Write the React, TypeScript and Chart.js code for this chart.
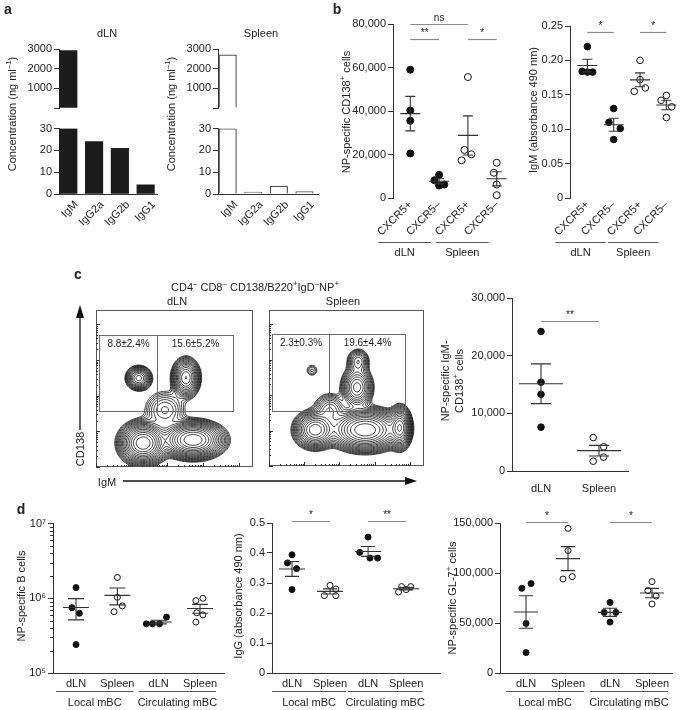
import React, { useEffect, useRef } from 'react';
import { Chart, registerables } from 'chart.js';

Chart.register(...registerables);

const FONT = '"Liberation Sans", Arial, Helvetica, sans-serif';
Chart.defaults.font.family = FONT;
Chart.defaults.font.size = 11;
Chart.defaults.color = '#222';

/* ================= DATA ================= */
// panel a
const igClasses = ['IgM', 'IgG2a', 'IgG2b', 'IgG1'];
const dlnConcentration = [2920, 24.0, 21.0, 4.2];
const spleenConcentration = [2700, 0.9, 3.6, 1.1];
const concUpperTicks = [0, 1000, 2000, 3000];
const concLowerTicks = [0, 10, 20, 30];
const concBreak = 30;

// panel b
const cxcrLabels = ['CXCR5+', 'CXCR5–', 'CXCR5+', 'CXCR5–'];
const cxcrBrackets = [
  { a: 0, b: 1, label: 'dLN' },
  { a: 2, b: 3, label: 'Spleen' },
];
const cd138DlnPos = [59000, 40200, 35500, 20500];
const cd138DlnNeg = [10700, 8200, 5700, 6200];
const cd138SplPos = [55600, 22100, 20100, 17300];
const cd138SplNeg = [16200, 11600, 6200, 1300];
const cd138Jitter = [
  [0, 0, 0, 0],
  [0, -0.16, 0, 0.18],
  [0, -0.12, 0.12, -0.22],
  [0, -0.1, 0, 0],
];
const cd138Ticks = [0, 20000, 40000, 60000, 80000];
const cd138Sig = [
  { a: 0, b: 1, y: 73100, t: '**' },
  { a: 0, b: 2, y: 80000, t: 'ns' },
  { a: 2, b: 3, y: 73100, t: '*' },
];
const igmAbsDlnPos = [0.22, 0.184, 0.183, 0.183];
const igmAbsDlnNeg = [0.13, 0.11, 0.101, 0.085];
const igmAbsSplPos = [0.2, 0.172, 0.155, 0.16];
const igmAbsSplNeg = [0.149, 0.142, 0.1325, 0.117];
const igmAbsJitter = [
  [0, -0.2, 0, 0.2],
  [0, -0.18, 0.25, 0],
  [0, 0, -0.22, 0.2],
  [0, -0.2, 0.2, 0],
];
const igmAbsTicks = [0, 0.05, 0.1, 0.15, 0.2, 0.25];
const igmAbsSig = [
  { a: 0, b: 1, y: 0.241, t: '*' },
  { a: 2, b: 3, y: 0.241, t: '*' },
];

// panel c (flow): populations [IgM centre, CD138 centre, IgM spread, CD138 spread, weight] in decades
const dlnPopulations = [
  [1.2, 2.49, 0.16, 0.15, 0.35],
  [2.52, 2.5, 0.17, 0.24, 0.5],
  [1.32, 0.67, 0.28, 0.25, 1.0],
  [2.72, 0.76, 0.37, 0.22, 1.0],
  [1.93, 1.6, 0.3, 0.28, 0.1],
];
const spleenPopulations = [
  [1.22, 2.7, 0.11, 0.11, 0.04],
  [2.5, 2.22, 0.2, 0.26, 0.35],
  [2.53, 2.95, 0.15, 0.17, 0.15],
  [1.31, 1.02, 0.26, 0.23, 0.6],
  [2.73, 1.02, 0.43, 0.25, 1.0],
  [3.72, 1.08, 0.14, 0.26, 0.6],
  [1.73, 1.59, 0.22, 0.22, 0.15],
];
const dlnGates = [
  [0.08, 1.57, 1.71, 3.7],
  [1.71, 1.57, 3.84, 3.7],
];
const dlnGateLabels = ['8.8±2.4%', '15.6±5.2%'];
const spleenGates = [
  [0.085, 1.56, 1.7, 3.72],
  [1.7, 1.56, 3.86, 3.72],
];
const spleenGateLabels = ['2.3±0.3%', '19.6±4.4%'];
const flowDecades = 4.4;

const tissueLabels = ['dLN', 'Spleen'];
const igmNegDln = [24200, 15400, 13300, 7600];
const igmNegSpleen = [5800, 4200, 2400, 1700];
const igmNegJitter = [
  [0, 0, 0, 0],
  [-0.1, 0.08, 0.08, -0.1],
];
const igmNegTicks = [0, 10000, 20000, 30000];
const igmNegSig = [{ a: 0, b: 1, y: 26000, t: '**' }];

// panel d
const mbcLabels = ['dLN', 'Spleen', 'dLN', 'Spleen'];
const mbcBrackets = [
  { a: 0, b: 1, label: 'Local mBC' },
  { a: 2, b: 3, label: 'Circulating mBC' },
];
const bCellLocalDln = [1.39e6, 7.5e5, 6.3e5, 2.4e5];
const bCellLocalSpleen = [1.9e6, 1.03e6, 7.9e5, 6.6e5];
const bCellCircDln = [4.55e5, 4.55e5, 4.55e5, 5.6e5];
const bCellCircSpleen = [9.3e5, 1.0e6, 6.4e5, 6.0e5, 4.8e5];
const bCellJitter = [
  [0, -0.1, 0.08, 0],
  [0, 0, 0.12, -0.08],
  [-0.3, -0.15, 0.02, 0.19],
  [-0.1, 0.07, -0.08, 0.07, -0.1],
];
const bCellTicks = [1e5, 1e6, 1e7];

const iggLocalDln = [0.394, 0.367, 0.348, 0.278];
const iggLocalSpleen = [0.292, 0.28, 0.258, 0.258];
const iggCircDln = [0.453, 0.402, 0.383, 0.383];
const iggCircSpleen = [0.288, 0.288, 0.278, 0.27];
const iggJitter = [
  [0, -0.12, 0.12, 0],
  [0, 0.15, -0.15, 0.15],
  [0, -0.22, 0.05, 0.25],
  [-0.12, 0.12, 0, -0.2],
];
const iggTicks = [0, 0.1, 0.2, 0.3, 0.4, 0.5];
const iggSig = [
  { a: 0, b: 1, y: 0.505, t: '*' },
  { a: 2, b: 3, y: 0.505, t: '**' },
];

const gl7LocalDln = [84700, 89400, 49500, 20400];
const gl7LocalSpleen = [144600, 122500, 94000, 96400];
const gl7CircDln = [70600, 60600, 60600, 50900];
const gl7CircSpleen = [91400, 82400, 77000, 69000];
const gl7Jitter = [
  [-0.1, 0.12, 0, 0],
  [0, 0, -0.12, 0.1],
  [0, -0.14, 0.14, 0],
  [0, -0.1, 0.1, 0],
];
const gl7Ticks = [0, 50000, 100000, 150000];
const gl7Sig = [
  { a: 0, b: 1, y: 151000, t: '*' },
  { a: 2, b: 3, y: 151000, t: '*' },
];

/* ================= HELPERS ================= */
type Area = { l: number; t: number; r: number; b: number };
type Pad = { l: number; t: number; r: number; b: number };

const SUP: Record<number, string> = { 5: '⁵', 6: '⁶', 7: '⁷' };
const fmtThousands = (v: number) => v.toLocaleString('en-US');

function boxOf(area: Area, pad: Pad) {
  return {
    x: area.l - pad.l,
    y: area.t - pad.t,
    w: area.r - area.l + pad.l + pad.r,
    h: area.b - area.t + pad.t + pad.b,
  };
}

function yAxis(pad: Pad, min: number, max: number, ticks: number[], fmt: (v: number) => string, type = 'linear') {
  return {
    type,
    min,
    max,
    afterFit: (s: any) => {
      s.width = pad.l;
    },
    afterBuildTicks: (s: any) => {
      s.ticks = ticks.map((v) => ({ value: v }));
    },
    grid: { display: true, drawOnChartArea: false, drawTicks: true, tickLength: 5, color: '#333', lineWidth: 1 },
    border: { display: true, color: '#333', width: 1 },
    ticks: { padding: 2, color: '#222', font: { size: 11, family: FONT }, callback: (v: any) => fmt(Number(v)) },
  };
}

function xAxis(pad: Pad, min: number, max: number, labels: string[], o: any) {
  return {
    type: 'linear',
    min,
    max,
    offset: false,
    display: o.display !== false,
    afterFit: (s: any) => {
      s.height = pad.b;
    },
    afterBuildTicks: (s: any) => {
      s.ticks = labels.map((_, i) => ({ value: i }));
    },
    grid: { display: false, drawTicks: false, tickLength: 0 },
    border: { display: o.border, color: '#333', width: 1 },
    ticks: {
      display: !o.rotate,
      autoSkip: false,
      maxRotation: 0,
      minRotation: 0,
      padding: o.padding,
      color: '#222',
      font: { size: 11, family: FONT },
      callback: (_v: any, i: number) => labels[i],
    },
  };
}

// rotated (45°) category labels, anchored at their right end below each tick
function makeRotLabels(labels: string[], dx: number, dy: number) {
  return {
    id: 'rotLabels',
    afterDraw(chart: any) {
      const { ctx, chartArea: a } = chart;
      const x = chart.scales.x;
      ctx.save();
      ctx.font = `11px ${FONT}`;
      ctx.fillStyle = '#222';
      ctx.textAlign = 'right';
      ctx.textBaseline = 'middle';
      labels.forEach((l, i) => {
        ctx.save();
        ctx.translate(x.getPixelForValue(i) + dx, a.bottom + dy);
        ctx.rotate(-Math.PI / 4);
        ctx.fillText(l, 0, 0);
        ctx.restore();
      });
      ctx.restore();
    },
  };
}

function makeDotAnnot(o: any) {
  return {
    id: 'dotAnnot',
    afterDatasetsDraw(chart: any) {
      const { ctx, chartArea: a } = chart;
      const x = chart.scales.x;
      const y = chart.scales.y;
      ctx.save();
      // mean ± SEM
      ctx.strokeStyle = '#333';
      ctx.lineWidth = 1.1;
      o.groups.forEach((vals: number[], gi: number) => {
        const n = vals.length;
        const mean = vals.reduce((s, v) => s + v, 0) / n;
        const sd = Math.sqrt(vals.reduce((s, v) => s + (v - mean) * (v - mean), 0) / (n - 1));
        const sem = sd / Math.sqrt(n);
        const cx = x.getPixelForValue(gi);
        const ym = y.getPixelForValue(mean);
        const yt = y.getPixelForValue(mean + sem);
        const yb = y.getPixelForValue(mean - sem);
        ctx.beginPath();
        ctx.moveTo(cx - o.meanHalf, ym);
        ctx.lineTo(cx + o.meanHalf, ym);
        ctx.moveTo(cx, yt);
        ctx.lineTo(cx, yb);
        ctx.moveTo(cx - o.capHalf, yt);
        ctx.lineTo(cx + o.capHalf, yt);
        ctx.moveTo(cx - o.capHalf, yb);
        ctx.lineTo(cx + o.capHalf, yb);
        ctx.stroke();
      });
      // significance bars
      ctx.font = `10px ${FONT}`;
      ctx.textAlign = 'center';
      ctx.textBaseline = 'bottom';
      ctx.fillStyle = '#222';
      (o.sig || []).forEach((s: any) => {
        const x0 = x.getPixelForValue(s.a);
        const x1 = x.getPixelForValue(s.b);
        const yy = Math.round(y.getPixelForValue(s.y)) + 0.5;
        ctx.strokeStyle = '#8a8a8a';
        ctx.lineWidth = 1.2;
        ctx.beginPath();
        ctx.moveTo(x0, yy);
        ctx.lineTo(x1, yy);
        ctx.stroke();
        ctx.fillText(s.t, (x0 + x1) / 2, yy - 1);
      });
      // group brackets
      ctx.font = `11px ${FONT}`;
      ctx.textBaseline = 'middle';
      (o.brackets || []).forEach((br: any) => {
        const x0 = x.getPixelForValue(br.a) + o.bOff.s;
        const x1 = x.getPixelForValue(br.b) + o.bOff.e;
        const ly = Math.round(a.bottom + o.bOff.line) + 0.5;
        ctx.strokeStyle = '#555';
        ctx.lineWidth = 1;
        ctx.beginPath();
        ctx.moveTo(x0, ly);
        ctx.lineTo(x1, ly);
        ctx.stroke();
        ctx.fillText(br.label, (x0 + x1) / 2, a.bottom + o.bOff.text);
      });
      // minor log ticks
      if (o.minor && o.minor.length) {
        ctx.strokeStyle = '#333';
        ctx.lineWidth = 1;
        ctx.beginPath();
        o.minor.forEach((v: number) => {
          const py = Math.round(y.getPixelForValue(v)) + 0.5;
          ctx.moveTo(a.left, py);
          ctx.lineTo(a.left - 3, py);
        });
        ctx.stroke();
      }
      ctx.restore();
    },
  };
}

function dotChart(o: any) {
  const { pad } = o;
  const plugins: any[] = [
    makeDotAnnot({
      groups: o.groups.map((g: any) => g.values),
      sig: o.sig,
      brackets: o.brackets,
      bOff: o.bOff,
      meanHalf: o.meanHalf,
      capHalf: o.capHalf,
      minor: o.minor,
    }),
  ];
  if (o.xOpts.rotate) plugins.push(makeRotLabels(o.xLabels, o.xOpts.dx, o.xOpts.dy));
  return {
    type: 'scatter',
    data: {
      datasets: o.groups.map((g: any, gi: number) => ({
        data: g.values.map((v: number, k: number) => ({ x: gi + g.jitter[k], y: v })),
        pointRadius: o.radius,
        pointBackgroundColor: g.filled ? '#111' : '#fff',
        pointBorderColor: '#111',
        pointBorderWidth: 1,
        showLine: false,
        clip: false,
      })),
    },
    options: {
      responsive: false,
      animation: false,
      events: [],
      layout: { padding: { left: 0, top: pad.t, right: pad.r, bottom: 0 } },
      plugins: { legend: { display: false }, tooltip: { enabled: false } },
      scales: {
        x: xAxis(pad, o.xMin, o.xMax, o.xLabels, o.xOpts),
        y: yAxis(pad, o.yMin, o.yMax, o.yTicks, o.yFmt, o.yType || 'linear'),
      },
    },
    plugins,
  };
}

function barChart(values: number[], part: 'upper' | 'lower', filled: boolean, xMin: number, xMax: number, pad: Pad) {
  const ticks = part === 'upper' ? concUpperTicks : concLowerTicks;
  return {
    type: 'bar',
    data: {
      datasets: [
        {
          data: values.map((v, i) => ({
            x: i,
            y: part === 'upper' ? (v > concBreak ? v : null) : Math.min(v, concBreak),
          })),
          backgroundColor: filled ? '#1c1c1c' : '#ffffff',
          borderColor: filled ? '#1c1c1c' : '#555',
          borderWidth: filled ? 0 : 1.2,
          barThickness: 17.5,
          borderSkipped: 'start',
        },
      ],
    },
    options: {
      responsive: false,
      animation: false,
      events: [],
      layout: { padding: { left: 0, top: pad.t, right: pad.r, bottom: part === 'upper' ? pad.b : 0 } },
      plugins: { legend: { display: false }, tooltip: { enabled: false } },
      scales: {
        x: xAxis(pad, xMin, xMax, igClasses, { rotate: true, border: true, padding: 0, display: part === 'lower' }),
        y: yAxis(pad, 0, ticks[ticks.length - 1], ticks, (v) => (part === 'upper' && v === 0 ? '' : String(v))),
      },
    },
    plugins: part === 'lower' ? [makeRotLabels(igClasses, 8, 9)] : [],
  };
}

function drawContours(chart: any, pops: number[][]) {
  const { ctx, chartArea: a } = chart;
  const x = chart.scales.x;
  const y = chart.scales.y;
  const step = 1.5;
  const nx = Math.ceil((a.right - a.left) / step);
  const ny = Math.ceil((a.bottom - a.top) / step);
  const W = nx + 1;
  const f = new Float64Array((nx + 1) * (ny + 1));
  let max = 0;
  for (let j = 0; j <= ny; j++) {
    const yv = y.getValueForPixel(a.top + j * step);
    for (let i = 0; i <= nx; i++) {
      const xv = x.getValueForPixel(a.left + i * step);
      let s = 0;
      for (const p of pops) {
        const dx = (xv - p[0]) / p[2];
        const dy = (yv - p[1]) / p[3];
        s += p[4] * Math.exp(-0.5 * (dx * dx + dy * dy));
      }
      f[j * W + i] = s;
      if (s > max) max = s;
    }
  }
  ctx.save();
  ctx.beginPath();
  ctx.rect(a.left, a.top, a.right - a.left, a.bottom - a.top);
  ctx.clip();
  ctx.strokeStyle = '#000';
  ctx.lineWidth = 0.75;
  ctx.beginPath();
  const levels = 17;
  for (let k = 1; k <= levels; k++) {
    const L = max * Math.pow(0.79, k);
    for (let j = 0; j < ny; j++) {
      for (let i = 0; i < nx; i++) {
        const v0 = f[j * W + i];
        const v1 = f[j * W + i + 1];
        const v2 = f[(j + 1) * W + i + 1];
        const v3 = f[(j + 1) * W + i];
        const pts: number[][] = [];
        if (v0 >= L !== v1 >= L) pts.push([i + (L - v0) / (v1 - v0), j]);
        if (v1 >= L !== v2 >= L) pts.push([i + 1, j + (L - v1) / (v2 - v1)]);
        if (v2 >= L !== v3 >= L) pts.push([i + 1 - (L - v2) / (v3 - v2), j + 1]);
        if (v3 >= L !== v0 >= L) pts.push([i, j + 1 - (L - v3) / (v0 - v3)]);
        for (let q = 0; q + 1 < pts.length; q += 2) {
          ctx.moveTo(a.left + pts[q][0] * step, a.top + pts[q][1] * step);
          ctx.lineTo(a.left + pts[q + 1][0] * step, a.top + pts[q + 1][1] * step);
        }
      }
    }
  }
  ctx.stroke();
  ctx.restore();
}

function flowChart(pops: number[][], gates: number[][], gateLabels: string[]) {
  return {
    type: 'scatter',
    data: { datasets: [] },
    options: {
      responsive: false,
      animation: false,
      events: [],
      layout: { padding: { left: 2, top: 2, right: 2, bottom: 2 } },
      plugins: { legend: { display: false }, tooltip: { enabled: false } },
      scales: {
        x: { type: 'linear', min: 0, max: flowDecades, display: false },
        y: { type: 'linear', min: 0, max: flowDecades, display: false },
      },
    },
    plugins: [
      {
        id: 'flow',
        afterDraw(chart: any) {
          const { ctx, chartArea: a } = chart;
          const x = chart.scales.x;
          const y = chart.scales.y;
          drawContours(chart, pops);
          ctx.save();
          ctx.strokeStyle = '#555';
          ctx.lineWidth = 1;
          ctx.strokeRect(a.left + 0.5, a.top + 0.5, a.right - a.left - 1, a.bottom - a.top - 1);
          ctx.strokeStyle = '#333';
          ctx.beginPath();
          for (let d = 0; d < flowDecades; d++) {
            for (let k = 1; k <= 9; k++) {
              const v = d + Math.log10(k);
              if (v > flowDecades - 0.1) break;
              const len = k === 1 ? 4 : 2;
              const px = Math.round(x.getPixelForValue(v)) + 0.5;
              ctx.moveTo(px, a.bottom);
              ctx.lineTo(px, a.bottom - len);
              const py = Math.round(y.getPixelForValue(v)) + 0.5;
              ctx.moveTo(a.left, py);
              ctx.lineTo(a.left + len, py);
            }
          }
          ctx.stroke();
          ctx.strokeStyle = '#6a6a6a';
          ctx.lineWidth = 1;
          ctx.font = `10px ${FONT}`;
          ctx.fillStyle = '#222';
          ctx.textAlign = 'center';
          ctx.textBaseline = 'middle';
          gates.forEach((g, i) => {
            const x0 = Math.round(x.getPixelForValue(g[0])) + 0.5;
            const x1 = Math.round(x.getPixelForValue(g[2])) + 0.5;
            const y0 = Math.round(y.getPixelForValue(g[3])) + 0.5;
            const y1 = Math.round(y.getPixelForValue(g[1])) + 0.5;
            ctx.strokeRect(x0, y0, x1 - x0, y1 - y0);
            ctx.fillText(gateLabels[i], (x0 + x1) / 2, y0 + 9);
          });
          ctx.restore();
        },
      },
    ],
  };
}

/* ================= COMPONENTS ================= */
function ChartCanvas({ area, pad, build }: { area: Area; pad: Pad; build: () => any }) {
  const ref = useRef<HTMLCanvasElement | null>(null);
  const box = boxOf(area, pad);
  useEffect(() => {
    const c = new Chart(ref.current as HTMLCanvasElement, build());
    return () => c.destroy();
  }, []);
  return (
    <canvas
      ref={ref}
      width={box.w}
      height={box.h}
      style={{ position: 'absolute', left: box.x, top: box.y, width: box.w, height: box.h }}
    />
  );
}

function T({ x, y, children, size = 11, bold = false, rot = false }: any) {
  return (
    <div
      style={{
        position: 'absolute',
        left: x,
        top: y,
        transform: rot ? 'translate(-50%, -50%) rotate(-90deg)' : 'translate(-50%, -50%)',
        whiteSpace: 'nowrap',
        textAlign: 'center',
        fontSize: size,
        fontWeight: bold ? 'bold' : 'normal',
        lineHeight: '14px',
        color: '#222',
      }}
    >
      {children}
    </div>
  );
}

const supStyle: any = { fontSize: '0.72em', verticalAlign: 'super', lineHeight: 0 };
const Sup = ({ children }: any) => <sup style={supStyle}>{children}</sup>;

export default function App() {
  // panel a
  const aPadUp: Pad = { l: 45, t: 10, r: 6, b: 8 };
  const aPadLo: Pad = { l: 45, t: 8, r: 6, b: 36 };
  const aDlnUp: Area = { l: 59, t: 49, r: 157, b: 116 };
  const aDlnLo: Area = { l: 59, t: 128, r: 157, b: 194 };
  const aSplUp: Area = { l: 218, t: 49, r: 318, b: 116 };
  const aSplLo: Area = { l: 218, t: 128, r: 318, b: 194 };

  // panel b
  const b1Area: Area = { l: 393, t: 24, r: 515, b: 198 };
  const b1Pad: Pad = { l: 50, t: 18, r: 4, b: 65 };
  const b2Area: Area = { l: 570, t: 26, r: 683, b: 198 };
  const b2Pad: Pad = { l: 42, t: 14, r: 1, b: 65 };
  const bXOpts = { rotate: true, border: false, padding: 0, dx: 0, dy: 5 };
  const bBrOff = { s: -32, e: -8, line: 44, text: 55 };

  // panel c
  const cDln: Area = { l: 96, t: 310, r: 253, b: 467 };
  const cSpl: Area = { l: 269, t: 310, r: 424, b: 466 };
  const flowPad: Pad = { l: 2, t: 2, r: 2, b: 2 };
  const cRArea: Area = { l: 512, t: 298, r: 628, b: 471 };
  const cRPad: Pad = { l: 52, t: 10, r: 6, b: 30 };

  // panel d
  const d1Area: Area = { l: 53, t: 523, r: 224, b: 673 };
  const d1Pad: Pad = { l: 36, t: 8, r: 6, b: 40 };
  const d2Area: Area = { l: 272, t: 523, r: 440, b: 673 };
  const d2Pad: Pad = { l: 34, t: 14, r: 8, b: 40 };
  const d3Area: Area = { l: 500, t: 523, r: 672, b: 673 };
  const d3Pad: Pad = { l: 46, t: 14, r: 10, b: 40 };
  const dXOpts = { rotate: false, border: true, padding: 4 };
  const dBrOff = { s: -20, e: 16, line: 18, text: 30 };

  const bCellMinor: number[] = [];
  for (let d = 5; d < 7; d++) for (let k = 2; k <= 9; k++) bCellMinor.push(k * Math.pow(10, d));

  return (
    <div
      style={{
        position: 'absolute',
        left: 0,
        top: 0,
        width: 685,
        height: 710,
        background: '#fff',
        fontFamily: FONT,
        fontSize: 11,
        color: '#222',
        overflow: 'hidden',
      }}
    >
      {/* panel a */}
      <ChartCanvas area={aDlnUp} pad={aPadUp} build={() => barChart(dlnConcentration, 'upper', true, -0.36, 3.44, aPadUp)} />
      <ChartCanvas area={aDlnLo} pad={aPadLo} build={() => barChart(dlnConcentration, 'lower', true, -0.36, 3.44, aPadLo)} />
      <ChartCanvas area={aSplUp} pad={aPadUp} build={() => barChart(spleenConcentration, 'upper', false, -0.38, 3.53, aPadUp)} />
      <ChartCanvas area={aSplLo} pad={aPadLo} build={() => barChart(spleenConcentration, 'lower', false, -0.38, 3.53, aPadLo)} />

      {/* panel b */}
      <ChartCanvas
        area={b1Area}
        pad={b1Pad}
        build={() =>
          dotChart({
            pad: b1Pad,
            xMin: -0.6,
            xMax: 3.6,
            xLabels: cxcrLabels,
            xOpts: bXOpts,
            yMin: 0,
            yMax: 80000,
            yTicks: cd138Ticks,
            yFmt: fmtThousands,
            groups: [
              { values: cd138DlnPos, filled: true, jitter: cd138Jitter[0] },
              { values: cd138DlnNeg, filled: true, jitter: cd138Jitter[1] },
              { values: cd138SplPos, filled: false, jitter: cd138Jitter[2] },
              { values: cd138SplNeg, filled: false, jitter: cd138Jitter[3] },
            ],
            sig: cd138Sig,
            brackets: cxcrBrackets,
            bOff: bBrOff,
            meanHalf: 10,
            capHalf: 5,
            radius: 3.5,
          })
        }
      />
      <ChartCanvas
        area={b2Area}
        pad={b2Pad}
        build={() =>
          dotChart({
            pad: b2Pad,
            xMin: -0.66,
            xMax: 3.48,
            xLabels: cxcrLabels,
            xOpts: bXOpts,
            yMin: 0,
            yMax: 0.25,
            yTicks: igmAbsTicks,
            yFmt: (v: number) => (v === 0 ? '0' : v.toFixed(2)),
            groups: [
              { values: igmAbsDlnPos, filled: true, jitter: igmAbsJitter[0] },
              { values: igmAbsDlnNeg, filled: true, jitter: igmAbsJitter[1] },
              { values: igmAbsSplPos, filled: false, jitter: igmAbsJitter[2] },
              { values: igmAbsSplNeg, filled: false, jitter: igmAbsJitter[3] },
            ],
            sig: igmAbsSig,
            brackets: cxcrBrackets,
            bOff: bBrOff,
            meanHalf: 10,
            capHalf: 5,
            radius: 3.3,
          })
        }
      />

      {/* panel c */}
      <ChartCanvas area={cDln} pad={flowPad} build={() => flowChart(dlnPopulations, dlnGates, dlnGateLabels)} />
      <ChartCanvas area={cSpl} pad={flowPad} build={() => flowChart(spleenPopulations, spleenGates, spleenGateLabels)} />
      <ChartCanvas
        area={cRArea}
        pad={cRPad}
        build={() =>
          dotChart({
            pad: cRPad,
            xMin: -0.5,
            xMax: 1.5,
            xLabels: tissueLabels,
            xOpts: { rotate: false, border: true, padding: 11 },
            yMin: 0,
            yMax: 30000,
            yTicks: igmNegTicks,
            yFmt: fmtThousands,
            groups: [
              { values: igmNegDln, filled: true, jitter: igmNegJitter[0] },
              { values: igmNegSpleen, filled: false, jitter: igmNegJitter[1] },
            ],
            sig: igmNegSig,
            brackets: [],
            bOff: dBrOff,
            meanHalf: 22,
            capHalf: 10,
            radius: 3.3,
          })
        }
      />

      {/* panel d */}
      <ChartCanvas
        area={d1Area}
        pad={d1Pad}
        build={() =>
          dotChart({
            pad: d1Pad,
            xMin: -0.557,
            xMax: 3.58,
            xLabels: mbcLabels,
            xOpts: dXOpts,
            yType: 'logarithmic',
            yMin: 1e5,
            yMax: 1e7,
            yTicks: bCellTicks,
            yFmt: (v: number) => '10' + SUP[Math.round(Math.log10(v))],
            groups: [
              { values: bCellLocalDln, filled: true, jitter: bCellJitter[0] },
              { values: bCellLocalSpleen, filled: false, jitter: bCellJitter[1] },
              { values: bCellCircDln, filled: true, jitter: bCellJitter[2] },
              { values: bCellCircSpleen, filled: false, jitter: bCellJitter[3] },
            ],
            sig: [],
            brackets: mbcBrackets,
            bOff: dBrOff,
            meanHalf: 13,
            capHalf: 8,
            radius: 3,
            minor: bCellMinor,
          })
        }
      />
      <ChartCanvas
        area={d2Area}
        pad={d2Pad}
        build={() =>
          dotChart({
            pad: d2Pad,
            xMin: -0.526,
            xMax: 3.89,
            xLabels: mbcLabels,
            xOpts: dXOpts,
            yMin: 0,
            yMax: 0.5,
            yTicks: iggTicks,
            yFmt: (v: number) => (v === 0 ? '0' : v.toFixed(1)),
            groups: [
              { values: iggLocalDln, filled: true, jitter: iggJitter[0] },
              { values: iggLocalSpleen, filled: false, jitter: iggJitter[1] },
              { values: iggCircDln, filled: true, jitter: iggJitter[2] },
              { values: iggCircSpleen, filled: false, jitter: iggJitter[3] },
            ],
            sig: iggSig,
            brackets: mbcBrackets,
            bOff: dBrOff,
            meanHalf: 13,
            capHalf: 7,
            radius: 3,
          })
        }
      />
      <ChartCanvas
        area={d3Area}
        pad={d3Pad}
        build={() =>
          dotChart({
            pad: d3Pad,
            xMin: -0.62,
            xMax: 3.476,
            xLabels: mbcLabels,
            xOpts: dXOpts,
            yMin: 0,
            yMax: 150000,
            yTicks: gl7Ticks,
            yFmt: fmtThousands,
            groups: [
              { values: gl7LocalDln, filled: true, jitter: gl7Jitter[0] },
              { values: gl7LocalSpleen, filled: false, jitter: gl7Jitter[1] },
              { values: gl7CircDln, filled: true, jitter: gl7Jitter[2] },
              { values: gl7CircSpleen, filled: false, jitter: gl7Jitter[3] },
            ],
            sig: gl7Sig,
            brackets: mbcBrackets,
            bOff: dBrOff,
            meanHalf: 12,
            capHalf: 7,
            radius: 3,
          })
        }
      />

      {/* arrows for flow plots */}
      <svg width={685} height={710} style={{ position: 'absolute', left: 0, top: 0, pointerEvents: 'none' }}>
        <line x1={80} y1={316} x2={80} y2={430} stroke="#111" strokeWidth={1.3} />
        <polygon points="80,305 76,318 84,318" fill="#111" />
        <line x1={123} y1={481} x2={407} y2={481} stroke="#111" strokeWidth={1.3} />
        <polygon points="417,481 405,477 405,485" fill="#111" />
      </svg>

      {/* panel letters */}
      <T x={8} y={9} size={14} bold>a</T>
      <T x={337} y={9} size={14} bold>b</T>
      <T x={78} y={274} size={14} bold>c</T>
      <T x={21} y={509} size={14} bold>d</T>

      {/* panel a texts */}
      <T x={107} y={33}>dLN</T>
      <T x={261} y={33}>Spleen</T>
      <T x={12} y={114} rot>
        Concentration (ng ml<Sup>–1</Sup>)
      </T>
      <T x={171} y={114} rot>
        Concentration (ng ml<Sup>–1</Sup>)
      </T>

      {/* panel b texts */}
      <T x={346} y={112} rot>
        NP-specific CD138<Sup>+</Sup> cells
      </T>
      <T x={533} y={110} rot>
        IgM (absorbance 490 nm)
      </T>

      {/* panel c texts */}
      <T x={255} y={287}>
        CD4<Sup>–</Sup> CD8<Sup>–</Sup> CD138/B220<Sup>+</Sup>IgD<Sup>–</Sup>NP<Sup>+</Sup>
      </T>
      <T x={177} y={301}>dLN</T>
      <T x={343} y={301}>Spleen</T>
      <T x={80} y={449} rot>CD138</T>
      <T x={107} y={482}>IgM</T>
      <T x={452} y={381} rot>
        NP-specific IgM-
        <br />
        CD138<Sup>+</Sup> cells
      </T>

      {/* panel d texts */}
      <T x={21} y={596} rot>NP-specific B cells</T>
      <T x={238} y={596} rot>IgG (absorbance 490 nm)</T>
      <T x={452} y={598} rot>
        NP-specific GL-7<Sup>+</Sup> cells
      </T>
    </div>
  );
}
